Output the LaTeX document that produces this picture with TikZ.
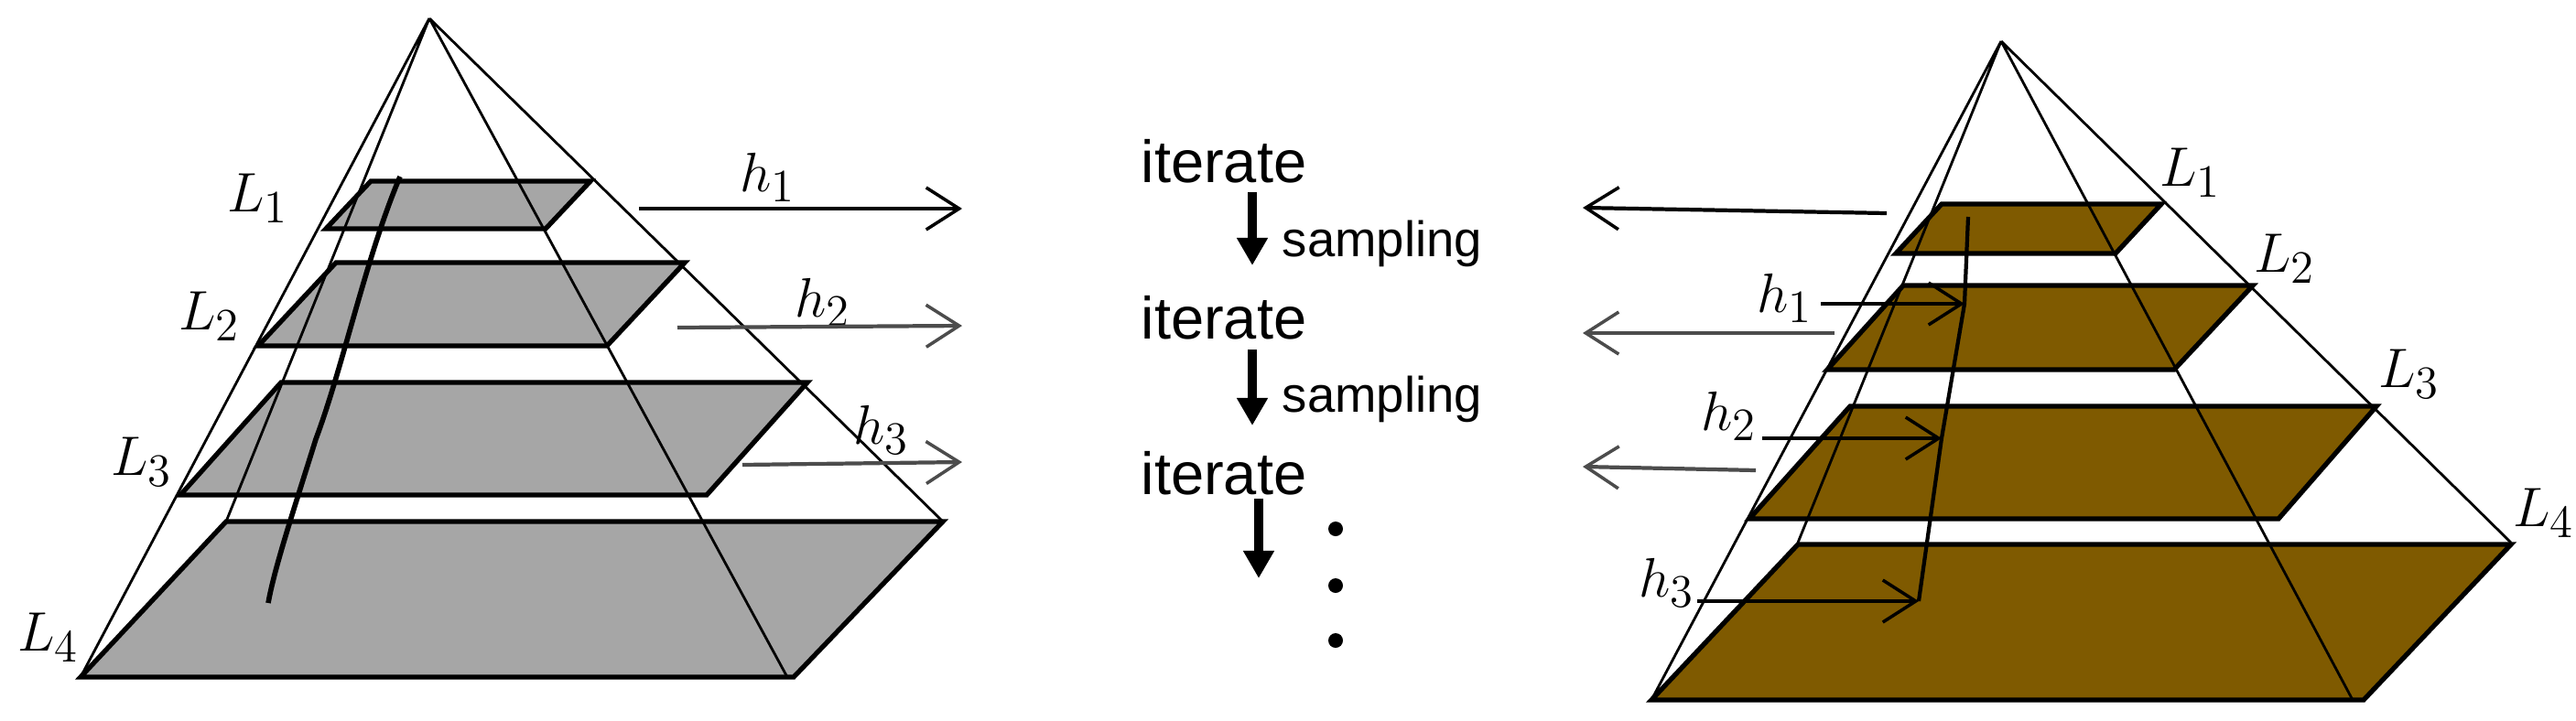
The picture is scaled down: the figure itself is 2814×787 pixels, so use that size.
\documentclass[tikz,border=0pt]{standalone}
\usepackage{fontspec}
\setsansfont{Liberation Sans}
\usetikzlibrary{arrows.meta}
\definecolor{gr}{HTML}{A6A6A6}
\definecolor{br}{HTML}{7F5A00}
\begin{document}
\begin{tikzpicture}[x=0.01cm,y=-0.01cm,
  edge/.style={line width=0.8pt},
  layer/.style={line width=1.5pt,line join=miter},
  harr/.style={line width=1.2pt,-{Straight Barb[length=0.36cm,width=0.46cm,line width=1pt]}},
  lab/.style={font=\fontsize{19}{21}\selectfont},
  txt/.style={font=\sffamily\fontsize{18.5}{20}\selectfont},
  smp/.style={font=\sffamily\fontsize{15.5}{17}\selectfont},
  darr/.style={line width=3pt,-{Triangle[length=0.3cm,width=0.32cm]}}]
\useasboundingbox (0,0) rectangle (2814,787);
% ---------------- left pyramid
\coordinate (A) at (469,20);
\foreach \bl/\br/\by/\fl/\fr/\fy in {405/645/198/356/596/250, 367/748/287/282/663/378, 307/882/418/197/772/541, 247/1030/570/88/867/740}
  \filldraw[layer,fill=gr] (\bl,\by) -- (\br,\by) -- (\fr,\fy) -- (\fl,\fy) -- cycle;
\draw[edge] (A) -- (88,740) (A) -- (247,570) (A) -- (860,740) (A) -- (1030,570);
\draw[line width=1.6pt] (437,193) .. controls (400,280) and (375,400) .. (345,480) .. controls (320,560) and (300,620) .. (293,659);
\node[lab] (l1) at (282,217) {$L_1$};
\node[lab] (l2) at (229,346) {$L_2$};
\node[lab] (l3) at (155,505) {$L_3$};
\node[lab] (l4) at (53,697) {$L_4$};
\node[lab] (h1) at (839,194) {$h_1$};
\node[lab] (h2) at (899,331) {$h_2$};
\node[lab] (h3) at (963,470) {$h_3$};
\coordinate (a1s) at (698,228); \coordinate (a1e) at (1051,228);
\coordinate (a2s) at (740,358); \coordinate (a2e) at (1051,356);
\coordinate (a3s) at (811,508); \coordinate (a3e) at (1051,505);
\draw[harr] (a1s) -- (a1e);
\draw[harr,draw=black!70] (a2s) -- (a2e);
\draw[harr,draw=black!70] (a3s) -- (a3e);
% ---------------- middle
\node[txt] (it1) at (1337,176) {iterate};
\node[txt] (it2) at (1337,347) {iterate};
\node[txt] (it3) at (1337,517) {iterate};
\node[smp] (s1) at (1510,266) {sampling};
\node[smp] (s2) at (1510,436) {sampling};
\coordinate (d1s) at (1368,210); \coordinate (d1e) at (1368,290);
\coordinate (d2s) at (1368,382); \coordinate (d2e) at (1368,465);
\coordinate (d3s) at (1375,545); \coordinate (d3e) at (1375,632);
\draw[darr] (d1s) -- (d1e);
\draw[darr] (d2s) -- (d2e);
\draw[darr] (d3s) -- (d3e);
\fill (1459,578) circle (8) (1459,640) circle (8) (1459,700) circle (8);
% ---------------- right pyramid
\coordinate (B) at (2186,45);
\foreach \bl/\br/\by/\fl/\fr/\fy in {2121/2361/223/2071/2311/277, 2079/2461/312/1996/2375/404, 2021/2596/444/1911/2489/567, 1964/2743/595/1804/2582/765}
  \filldraw[layer,fill=br] (\bl,\by) -- (\br,\by) -- (\fr,\fy) -- (\fl,\fy) -- cycle;
\draw[edge] (B) -- (1804,765) (B) -- (1964,593) (B) -- (2570,765) (B) -- (2743,593);
\coordinate (v0) at (2150,237); \coordinate (v1) at (2146,332);
\coordinate (v2) at (2121,479); \coordinate (v3) at (2096,657);
\draw[line width=1.2pt] (v0) -- (v1) -- (v2) -- (v3);
\node[lab] (r1) at (2393,189) {$L_1$};
\node[lab] (r2) at (2496,283) {$L_2$};
\node[lab] (r3) at (2632,409) {$L_3$};
\node[lab] (r4) at (2779,561) {$L_4$};
\node[lab] (g1) at (1950,326) {$h_1$};
\node[lab] (g2) at (1889,455) {$h_2$};
\node[lab] (g3) at (1821,637) {$h_3$};
\coordinate (b1s) at (1989,332);
\coordinate (b2s) at (1925,479);
\coordinate (b3s) at (1854,657);
\draw[harr] (b1s) -- (v1);
\draw[harr] (b2s) -- (v2);
\draw[harr] (b3s) -- (v3);
\coordinate (c1s) at (2061,233); \coordinate (c1e) at (1729,227);
\coordinate (c2s) at (2004,364); \coordinate (c2e) at (1729,364);
\coordinate (c3s) at (1918,514); \coordinate (c3e) at (1729,510);
\draw[harr] (c1s) -- (c1e);
\draw[harr,draw=black!70] (c2s) -- (c2e);
\draw[harr,draw=black!70] (c3s) -- (c3e);
\end{tikzpicture}
\end{document}
